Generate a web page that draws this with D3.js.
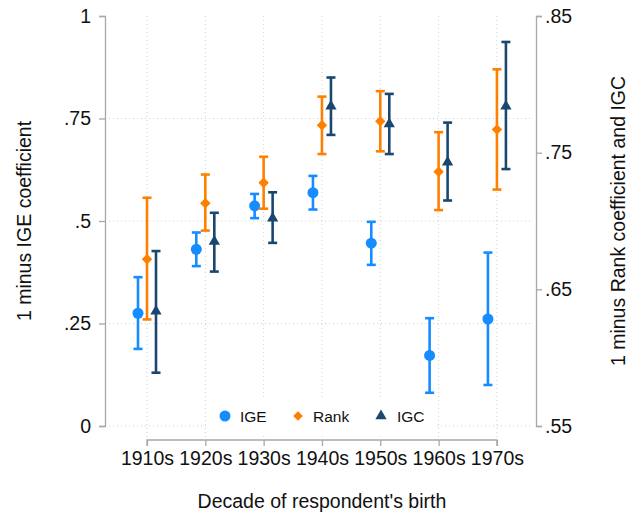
<!DOCTYPE html>
<html>
<head>
<meta charset="utf-8">
<script src="https://cdn.jsdelivr.net/npm/d3@7"></script>
<style>
  html, body { margin: 0; padding: 0; background: #fff; }
  svg { display: block; font-family: "Liberation Sans", Arial, Helvetica, sans-serif; }
</style>
</head>
<body>
<svg id="chart" width="631" height="516"></svg>
<script>
// Birth decades on the x axis
const decades = ["1910s", "1920s", "1930s", "1940s", "1950s", "1960s", "1970s"];

// 1 minus IGE coefficient (left axis): estimate and 95% CI
const igeEst = [0.275, 0.431, 0.537, 0.569, 0.446, 0.172, 0.261];
const igeLo  = [0.188, 0.390, 0.507, 0.528, 0.393, 0.081, 0.100];
const igeHi  = [0.363, 0.472, 0.566, 0.610, 0.498, 0.263, 0.423];

// 1 minus rank coefficient (right axis)
const rankEst = [0.672, 0.713, 0.728, 0.770, 0.773, 0.736, 0.767];
const rankLo  = [0.628, 0.693, 0.709, 0.749, 0.751, 0.708, 0.723];
const rankHi  = [0.717, 0.734, 0.747, 0.791, 0.795, 0.765, 0.811];

// 1 minus IGC (right axis)
const igcEst = [0.634, 0.685, 0.702, 0.784, 0.771, 0.743, 0.784];
const igcLo  = [0.589, 0.663, 0.684, 0.763, 0.749, 0.715, 0.738];
const igcHi  = [0.678, 0.706, 0.721, 0.805, 0.793, 0.772, 0.831];

// Axis tick labels
const leftTicks  = [0, 0.25, 0.5, 0.75, 1];
const rightTicks = [0.55, 0.65, 0.75, 0.85];

const svg = d3.select("#chart");
const fmt = v => v === 0 ? "0" : v === 1 ? "1" : String(v).replace(/^0/, "");

const plotLeft = 105, plotRight = 536, plotTop = 16, plotBottom = 426, xAxisY = 440;

const x = d3.scaleLinear().domain([0.28, 7.67]).range([plotLeft, plotRight]);
const yL = d3.scaleLinear().domain([0, 1]).range([plotBottom, plotTop]);
const yR = d3.scaleLinear().domain([0.55, 0.85]).range([plotBottom, plotTop]);

const axisColor = "#a8a8a8";
const gridColor = "#cfcfcf";
const textColor = "#111";
const blue = "#158cff", orange = "#ff8000", navy = "#1a476f";
const tickFont = 19.5, titleFont = 19.5;

// Grid lines
const grid = svg.append("g");
grid.selectAll("line.h").data(leftTicks.filter(t => t < 1)).join("line")
  .attr("x1", plotLeft + 4).attr("x2", plotRight - 3)
  .attr("y1", d => yL(d)).attr("y2", d => yL(d))
  .attr("stroke", gridColor).attr("stroke-width", 1).attr("stroke-dasharray", "1,3");
grid.selectAll("line.v").data(decades).join("line")
  .attr("x1", (d, i) => x(i + 1)).attr("x2", (d, i) => x(i + 1))
  .attr("y1", plotTop).attr("y2", xAxisY - 3)
  .attr("stroke", gridColor).attr("stroke-width", 1).attr("stroke-dasharray", "1,3");

// Axes
function styleAxis(g) {
  g.attr("font-family", null);
  g.select(".domain").attr("stroke", axisColor).attr("stroke-width", 1.3);
  g.selectAll(".tick line").attr("stroke", axisColor).attr("stroke-width", 1.3);
  g.selectAll(".tick text").attr("fill", textColor).attr("font-size", tickFont);
}
svg.append("g").attr("transform", `translate(${plotLeft},0)`)
  .call(d3.axisLeft(yL).tickValues(leftTicks).tickFormat(fmt).tickSize(6).tickSizeOuter(6).tickPadding(8))
  .call(styleAxis);
svg.append("g").attr("transform", `translate(${plotRight},0)`)
  .call(d3.axisRight(yR).tickValues(rightTicks).tickFormat(fmt).tickSize(6).tickSizeOuter(6).tickPadding(3))
  .call(styleAxis);
const xg = svg.append("g").attr("transform", `translate(0,${xAxisY})`)
  .call(d3.axisBottom(x).tickValues(d3.range(1, 8)).tickFormat(d => decades[d - 1]).tickSize(6).tickSizeOuter(6).tickPadding(5))
  .call(styleAxis);
// x axis line spans first to last tick only
xg.select(".domain").attr("d", `M${x(1)},6V0H${x(7)}V6`);

// Axis titles
svg.append("text").attr("transform", `translate(31,${(plotTop + plotBottom) / 2}) rotate(-90)`)
  .attr("text-anchor", "middle").attr("font-size", titleFont).attr("fill", textColor).text("1 minus IGE coefficient");
svg.append("text").attr("transform", `translate(625,${(plotTop + plotBottom) / 2}) rotate(-90)`)
  .attr("text-anchor", "middle").attr("font-size", titleFont).attr("fill", textColor).text("1 minus Rank coefficient and IGC");
svg.append("text").attr("x", (x(1) + x(7)) / 2).attr("y", 508)
  .attr("text-anchor", "middle").attr("font-size", titleFont).attr("fill", textColor).text("Decade of respondent's birth");

// Legend box (white, sits over the grid)
const legend = svg.append("g");
legend.append("rect").attr("x", 208).attr("y", 398).attr("width", 229).attr("height", 36).attr("fill", "#fff");

// Series with error bars
const off = 9 / (x(2) - x(1));
const series = [
  { name: "IGE",  est: igeEst,  lo: igeLo,  hi: igeHi,  y: yL, color: blue,   dx: -off, sym: d3.symbolCircle,   size: 95 },
  { name: "Rank", est: rankEst, lo: rankLo, hi: rankHi, y: yR, color: orange, dx: 0,    sym: d3.symbolDiamond2, size: 70 },
  { name: "IGC",  est: igcEst,  lo: igcLo,  hi: igcHi,  y: yR, color: navy,   dx: off,  sym: d3.symbolTriangle, size: 55 }
];

series.forEach(s => {
  const g = svg.append("g");
  const idx = d3.range(s.est.length);
  const cx = i => x(i + 1 + s.dx);
  g.selectAll("line.bar").data(idx).join("line")
    .attr("x1", cx).attr("x2", cx)
    .attr("y1", i => s.y(s.lo[i])).attr("y2", i => s.y(s.hi[i]))
    .attr("stroke", s.color).attr("stroke-width", 2.6);
  ["lo", "hi"].forEach(k => {
    g.selectAll("line.cap" + k).data(idx).join("line")
      .attr("x1", i => cx(i) - 4.5).attr("x2", i => cx(i) + 4.5)
      .attr("y1", i => s.y(s[k][i])).attr("y2", i => s.y(s[k][i]))
      .attr("stroke", s.color).attr("stroke-width", 2.6);
  });
  g.selectAll("path.pt").data(idx).join("path")
    .attr("transform", i => `translate(${cx(i)},${s.y(s.est[i])})`)
    .attr("d", d3.symbol().type(s.sym).size(s.size))
    .attr("fill", s.color);
});

// Legend entries
const legItems = [
  { label: "IGE",  mx: 225, tx: 240, size: 95 },
  { label: "Rank", mx: 298, tx: 313, size: 60 },
  { label: "IGC",  mx: 381, tx: 397, size: 55 }
];
legItems.forEach((d, i) => {
  const s = series[i];
  legend.append("path").attr("transform", `translate(${d.mx},416)`)
    .attr("d", d3.symbol().type(s.sym).size(d.size)).attr("fill", s.color);
  legend.append("text").attr("x", d.tx).attr("y", 421.5).attr("font-size", 15.5).attr("fill", textColor).text(d.label);
});
</script>
</body>
</html>
